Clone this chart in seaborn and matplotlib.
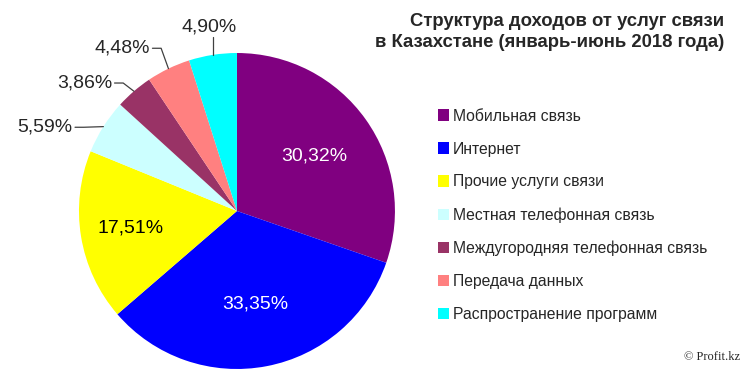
import numpy as np
import matplotlib
matplotlib.use("Agg")
import matplotlib.pyplot as plt
import seaborn as sns
from matplotlib.patches import Patch

# ----------------------------------------------------------------------------
# Data
# ----------------------------------------------------------------------------

categories = [
    "Мобильная связь",
    "Интернет",
    "Прочие услуги связи",
    "Местная телефонная связь",
    "Междугородняя телефонная связь",
    "Передача данных",
    "Распространение программ",
]

shares = [30.32, 33.35, 17.51, 5.59, 3.86, 4.48, 4.90]

colors = ["#800080", "#0000FF", "#FFFF00", "#CCFFFF", "#993366", "#FF8080", "#00FFFF"]

title_text = "Структура доходов от услуг связи\nв Казахстане (январь-июнь 2018 года)"

# ----------------------------------------------------------------------------
# Style
# ----------------------------------------------------------------------------

sns.set_theme(style="white")
plt.rcParams["font.family"] = ["Liberation Sans", "DejaVu Sans"]

fig = plt.figure(figsize=(7.5, 3.75), dpi=100)
ax = fig.add_axes([0.1053, 0.016, 0.4213, 0.8427])

wedges, _ = ax.pie(
    shares,
    colors=colors,
    startangle=90,
    counterclock=False,
    radius=1.0,
    wedgeprops={"linewidth": 0},
)
ax.set_xlim(-1, 1)
ax.set_ylim(-1, 1)
ax.set_aspect("equal")
ax.axis("off")


def fmt(v):
    return f"{v:.2f}%".replace(".", ",")


def mid_point(w, r):
    ang = np.deg2rad((w.theta1 + w.theta2) / 2)
    return r * np.cos(ang), r * np.sin(ang)


# inside labels (large slices)
inside = {0: ("white", 0.6), 1: ("white", 0.6), 2: ("black", 0.68)}
for i, (col, r) in inside.items():
    x, y = mid_point(wedges[i], r)
    ax.text(x, y, fmt(shares[i]), color=col, fontsize=14, ha="center", va="center")

# outside labels with leader lines (layout positions in axes data units)
outside = {
    3: (-1.04, 0.53),
    4: (-0.79, 0.81),
    5: (-0.55, 1.03),
}
for i, (tx, ty) in outside.items():
    ex, ey = mid_point(wedges[i], 1.0)
    elbow_x = min(tx + 0.07, ex)
    ax.plot([ex, elbow_x, tx + 0.015], [ey, ty, ty], color="#404040", lw=0.9,
            clip_on=False)
    ax.text(tx, ty, fmt(shares[i]), fontsize=14, ha="right", va="center")

# top label (small slice near 12 o'clock)
ex, ey = mid_point(wedges[6], 1.0)
ax.plot([ex, ex], [ey, 1.1], color="#404040", lw=0.9, clip_on=False)
ax.text(ex - 0.02, 1.11, fmt(shares[6]), fontsize=14, ha="center", va="bottom")

# ----------------------------------------------------------------------------
# Legend, title, source
# ----------------------------------------------------------------------------

handles = [Patch(facecolor=c, edgecolor="none") for c in colors]
fig.legend(
    handles,
    categories,
    loc="upper left",
    bbox_to_anchor=(0.575, 0.727),
    frameon=False,
    fontsize=11.3,
    handlelength=0.75,
    handleheight=0.75,
    handletextpad=0.25,
    labelspacing=1.14,
    borderaxespad=0,
)

fig.text(0.966, 0.915, title_text, fontsize=13.3, fontweight="bold",
         ha="right", va="center", multialignment="right", linespacing=1.35)

fig.text(0.987, 0.048, "© Profit.kz", fontsize=9, ha="right", va="center",
         family=["Liberation Serif", "DejaVu Serif"])

fig.savefig("out.png", dpi=100)
